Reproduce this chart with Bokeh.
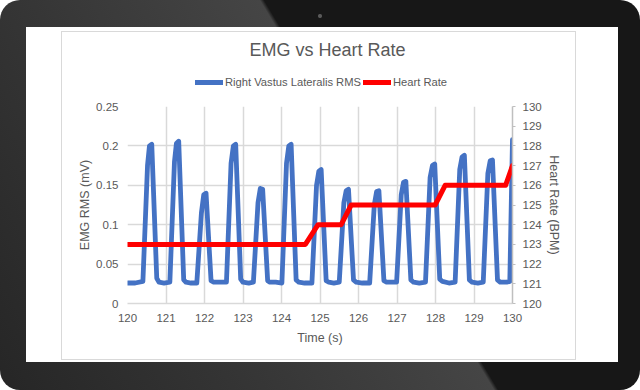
from bokeh.plotting import figure
from bokeh.models import (Range1d, LinearAxis, FixedTicker, Legend, LegendItem,
                          NumeralTickFormatter)
from bokeh.layouts import column
from bokeh.embed import file_html
from bokeh.resources import INLINE

# ---------------- data ----------------
time_s = [120.00, 120.20, 120.40, 120.52, 120.57, 120.63, 120.76, 120.82,
          120.95, 121.10, 121.22, 121.27, 121.33, 121.46, 121.52,
          121.65, 121.80, 121.92, 121.98, 122.04, 122.17, 122.24,
          122.40, 122.57, 122.69, 122.75, 122.81, 122.94, 123.00,
          123.15, 123.27, 123.39, 123.45, 123.51, 123.64, 123.70,
          123.85, 124.01, 124.13, 124.19, 124.25, 124.38, 124.45,
          124.60, 124.79, 124.91, 124.97, 125.03, 125.16, 125.23,
          125.36, 125.50, 125.62, 125.68, 125.74, 125.87, 125.94,
          126.10, 126.29, 126.41, 126.47, 126.53, 126.66, 126.73,
          126.86, 126.99, 127.11, 127.17, 127.23, 127.36, 127.43,
          127.58, 127.74, 127.86, 127.92, 127.98, 128.11, 128.18,
          128.35, 128.51, 128.63, 128.69, 128.75, 128.88, 128.95,
          129.10, 129.24, 129.36, 129.42, 129.48, 129.61, 129.68,
          129.85, 129.93, 130.00]
emg_rms = [0.026, 0.026, 0.028, 0.175, 0.200, 0.202, 0.032, 0.027,
           0.026, 0.027, 0.180, 0.203, 0.206, 0.030, 0.027,
           0.026, 0.026, 0.115, 0.138, 0.140, 0.029, 0.027,
           0.027, 0.027, 0.178, 0.200, 0.202, 0.031, 0.027,
           0.026, 0.027, 0.128, 0.146, 0.145, 0.029, 0.027,
           0.027, 0.026, 0.178, 0.200, 0.202, 0.030, 0.027,
           0.026, 0.026, 0.150, 0.168, 0.170, 0.029, 0.027,
           0.026, 0.027, 0.128, 0.143, 0.145, 0.030, 0.027,
           0.026, 0.026, 0.125, 0.142, 0.143, 0.029, 0.027,
           0.027, 0.027, 0.138, 0.154, 0.155, 0.030, 0.027,
           0.026, 0.027, 0.160, 0.175, 0.177, 0.031, 0.028,
           0.026, 0.027, 0.170, 0.186, 0.188, 0.030, 0.027,
           0.026, 0.027, 0.165, 0.181, 0.182, 0.030, 0.027,
           0.027, 0.028, 0.208]

hr_time = [120.00, 124.62, 124.95, 125.55, 125.81, 127.99, 128.25, 129.82, 130.00]
hr_bpm = [123, 123, 124, 124, 125, 125, 126, 126, 127]

x_ticks = [120, 121, 122, 123, 124, 125, 126, 127, 128, 129, 130]
emg_ticks = [0, 0.05, 0.1, 0.15, 0.2, 0.25]
hr_ticks = [120, 121, 122, 123, 124, 125, 126, 127, 128, 129, 130]

series_names = ["Right Vastus Lateralis RMS", "Heart Rate"]
series_colors = ["#4472C4", "#FF0000"]

FONT = "Liberation Sans"
GREY = "#595959"

# ---------------- header: title + legend ----------------
head = figure(width=513, height=62, output_backend="svg", toolbar_location=None,
              x_range=Range1d(0, 1), y_range=Range1d(0, 1),
              x_axis_type=None, y_axis_type=None,
              min_border_left=0, min_border_right=0, min_border_top=9,
              min_border_bottom=0, outline_line_color=None,
              background_fill_color="white", border_fill_color="white")
head.grid.visible = False
head.title.text = "EMG vs Heart Rate"
head.title.text_font = FONT
head.title.text_font_size = "18px"
head.title.text_font_style = "normal"
head.title.text_color = GREY
head.title.align = "left"
head.title.offset = 122

# legend proxies (kept outside the visible range of the header)
proxy_emg = head.line(x=[-2, -1], y=[-2, -2], line_color=series_colors[0],
                      line_width=5, line_cap="round")
proxy_hr = head.line(x=[-2, -1], y=[-2, -2], line_color=series_colors[1],
                     line_width=5, line_cap="round")
legend = Legend(items=[LegendItem(label=series_names[0], renderers=[proxy_emg]),
                       LegendItem(label=series_names[1], renderers=[proxy_hr])],
                orientation="horizontal", location=(68, 6.5),
                glyph_width=28, glyph_height=12, label_standoff=2, spacing=2,
                padding=0, margin=0, border_line_color=None,
                background_fill_alpha=0,
                label_text_font=FONT, label_text_font_size="11.2px",
                label_text_color=GREY)
head.add_layout(legend)

# ---------------- main chart ----------------
p = figure(width=513, height=265, output_backend="svg", toolbar_location=None,
           x_range=Range1d(120, 130), y_range=Range1d(0, 0.25),
           min_border_left=65, min_border_right=63, min_border_top=12,
           min_border_bottom=56, background_fill_color="white",
           border_fill_color="white", outline_line_color=None)
p.extra_y_ranges = {"hr": Range1d(120, 130)}

xa = p.xaxis[0]
xa.ticker = FixedTicker(ticks=x_ticks)
xa.axis_label = "Time (s)"
ya = p.yaxis[0]
ya.ticker = FixedTicker(ticks=emg_ticks)
ya.formatter = NumeralTickFormatter(format="0.[00]")
ya.axis_label = "EMG RMS (mV)"
ra = LinearAxis(y_range_name="hr", ticker=FixedTicker(ticks=hr_ticks),
                axis_label="Heart Rate (BPM)")
p.add_layout(ra, "right")

for ax in (xa, ya, ra):
    ax.major_label_text_font = FONT
    ax.major_label_text_font_size = "11.5px"
    ax.major_label_text_color = GREY
    ax.axis_label_text_font = FONT
    ax.axis_label_text_font_size = "12.5px"
    ax.axis_label_text_font_style = "normal"
    ax.axis_label_text_color = GREY
    ax.minor_tick_line_color = None
xa.axis_line_color = "#d9d9d9"
xa.axis_line_width = 1.5
xa.major_tick_line_color = None
xa.major_tick_out = 0
xa.major_tick_in = 0
xa.major_label_standoff = 10
xa.axis_label_standoff = 6
ya.axis_line_color = None
ya.major_tick_line_color = None
ya.major_tick_out = 0
ya.major_tick_in = 0
ya.major_label_standoff = 9
ya.axis_label_standoff = 1
ra.axis_line_color = "#bfbfbf"
ra.axis_line_width = 1.5
ra.major_tick_line_color = "#bfbfbf"
ra.major_tick_out = 3
ra.major_tick_in = 0
ra.major_label_standoff = 7
ra.axis_label_standoff = 2

p.xgrid.grid_line_color = "#d9d9d9"
p.xgrid.grid_line_width = 1.5
p.ygrid.grid_line_color = "#d9d9d9"
p.ygrid.grid_line_width = 1.5

p.line(time_s, emg_rms, line_color=series_colors[0], line_width=4.8,
       line_join="round", line_cap="round")
p.line(hr_time, hr_bpm, y_range_name="hr", line_color=series_colors[1],
       line_width=5, line_join="round", line_cap="round")

chart_box = column(head, p, spacing=0, styles={"border": "1px solid #d9d9d9"})
screen = column(chart_box, styles={"background-color": "white",
                                   "padding": "4px 42px 2px 35px"})
tablet = column(screen, styles={
    "background": "radial-gradient(circle at 320px 16px, #5a5a5a 0px, #5a5a5a 1.5px, rgba(0,0,0,0) 2.5px), "
                  "linear-gradient(59deg, #262626 0%, #333333 25%, #454545 56.5%, #171717 57%, #171717 100%)",
    "border-radius": "20px",
    "padding": "27px 22px 28px 26px"})

open("out.html", "w").write(file_html(tablet, INLINE))
